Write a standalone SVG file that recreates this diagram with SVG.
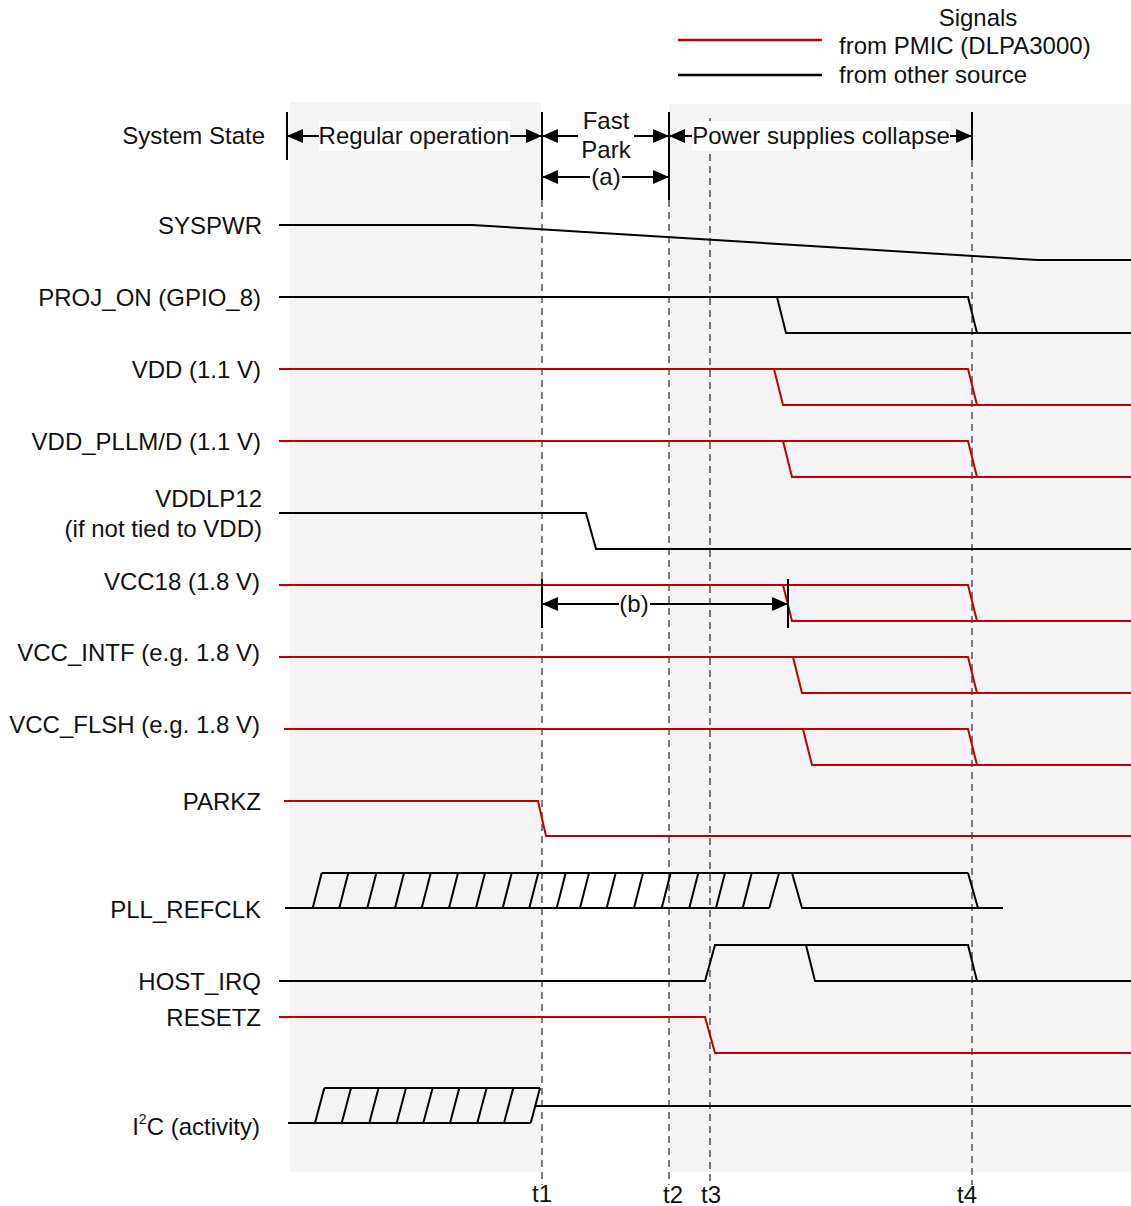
<svg xmlns="http://www.w3.org/2000/svg" width="1131" height="1206" viewBox="0 0 1131 1206">
<defs>
<style>
text{font-family:"Liberation Sans",Arial,Helvetica,sans-serif;font-size:24px;fill:#111}
.lbl{text-anchor:end}
.mid{text-anchor:middle}
.blk{stroke:#000;stroke-width:2;fill:none;stroke-linejoin:miter}
.red{stroke:#c00000;stroke-width:2;fill:none;stroke-linejoin:miter}
.dash{stroke:#3a3a3a;stroke-width:1.3;stroke-dasharray:7 5;fill:none}
.bar{stroke:#000;stroke-width:2;fill:none}
.arr{stroke:#000;stroke-width:2;fill:none;marker-start:url(#ah);marker-end:url(#ah)}
.wb{fill:#fff}
.bg{fill:#f4f4f4}
</style>
<marker id="ah" viewBox="0 0 16 14" refX="16" refY="7" markerWidth="16" markerHeight="14" markerUnits="userSpaceOnUse" orient="auto-start-reverse">
<path d="M0,0 L16,7 L0,14 Z" fill="#000"/>
</marker>
</defs>
<rect width="1131" height="1206" fill="#fff"/>
<g id="background">
<rect class="bg" x="290" y="102" width="251" height="1070"/>
<rect class="bg" x="669" y="104" width="462" height="1068"/>
</g>
<g id="legend">
<text class="mid" x="978" y="26">Signals</text>
<line x1="678" y1="40" x2="822" y2="40" stroke="#c00000" stroke-width="2.5"/>
<text x="839" y="54">from PMIC (DLPA3000)</text>
<line x1="678" y1="75" x2="822" y2="75" stroke="#000" stroke-width="2.5"/>
<text x="839" y="83">from other source</text>
</g>
<g id="timelines">
<line class="bar" x1="287" y1="112" x2="287" y2="160"/>
<line class="bar" x1="542" y1="112" x2="542" y2="200"/>
<line class="bar" x1="669" y1="112" x2="669" y2="200"/>
<line class="bar" x1="972" y1="112" x2="972" y2="160"/>
<line class="dash" x1="542" y1="200" x2="542" y2="1185"/>
<line class="dash" x1="669" y1="200" x2="669" y2="1185"/>
<line class="dash" x1="710" y1="118" x2="710" y2="1185"/>
<line class="dash" x1="972" y1="160" x2="972" y2="1185"/>
<text class="mid" x="542" y="1202">t1</text>
<text class="mid" x="673" y="1203">t2</text>
<text class="mid" x="711" y="1203">t3</text>
<text class="mid" x="967" y="1203">t4</text>
</g>
<g id="system-state">
<text class="lbl" x="265" y="144">System State</text>
<line class="arr" x1="287" y1="136" x2="542" y2="136"/>
<rect class="wb" x="319" y="121" width="191" height="30"/>
<text class="mid" x="414" y="144">Regular operation</text>
<line class="arr" x1="542" y1="136" x2="669" y2="136"/>
<rect class="wb" x="578" y="108" width="56" height="52"/>
<text class="mid" x="606" y="129">Fast</text>
<text class="mid" x="606" y="158">Park</text>
<line class="arr" x1="542" y1="177" x2="669" y2="177"/>
<rect class="wb" x="590" y="163" width="32" height="28"/>
<text class="mid" x="606" y="185">(a)</text>
<line class="arr" x1="669" y1="136" x2="972" y2="136"/>
<rect class="wb" x="692" y="121" width="258" height="30"/>
<text class="mid" x="821" y="144">Power supplies collapse</text>
</g>
<g id="SYSPWR">
<text class="lbl" x="262" y="234">SYSPWR</text>
</g>
<g id="PROJ_ON">
<text class="lbl" x="261" y="306">PROJ_ON (GPIO_8)</text>
</g>
<g id="VDD">
<text class="lbl" x="261" y="378">VDD (1.1 V)</text>
</g>
<g id="VDD_PLLM">
<text class="lbl" x="261" y="450">VDD_PLLM/D (1.1 V)</text>
</g>
<g id="VDDLP12">
<text class="lbl" x="262" y="507">VDDLP12</text>
<text class="lbl" x="262" y="537">(if not tied to VDD)</text>
</g>
<g id="VCC18">
<text class="lbl" x="260" y="590">VCC18 (1.8 V)</text>
</g>
<g id="VCC_INTF">
<text class="lbl" x="260" y="661">VCC_INTF (e.g. 1.8 V)</text>
</g>
<g id="VCC_FLSH">
<text class="lbl" x="260" y="733">VCC_FLSH (e.g. 1.8 V)</text>
</g>
<g id="PARKZ">
<text class="lbl" x="261" y="810">PARKZ</text>
</g>
<g id="PLL_REFCLK">
<text class="lbl" x="261" y="918">PLL_REFCLK</text>
</g>
<g id="HOST_IRQ">
<text class="lbl" x="261" y="990">HOST_IRQ</text>
</g>
<g id="RESETZ">
<text class="lbl" x="261" y="1026">RESETZ</text>
</g>
<g id="I2C">
<text class="lbl" x="260" y="1135">I<tspan font-size="14" dy="-11">2</tspan><tspan dy="11">C (activity)</tspan></text>
</g>
<g id="connectors">
<polyline class="blk" points="279,225 472,225 1038,260 1131,260"/>
<polyline class="blk" points="279,297 968,297 977,333 1131,333"/>
<polyline class="blk" points="777,297 786,333 977,333"/>
<polyline class="red" points="279,369 968,369 977,405 1131,405"/>
<polyline class="red" points="774,369 783,405 977,405"/>
<polyline class="red" points="279,441 968,441 977,477 1131,477"/>
<polyline class="red" points="783,441 792,477 977,477"/>
<polyline class="blk" points="279,513 586,513 596,549 1131,549"/>
<polyline class="red" points="279,585 968,585 977,621 1131,621"/>
<polyline class="red" points="783,585 792,621 977,621"/>
<line class="bar" x1="542" y1="579" x2="542" y2="628"/>
<line class="bar" x1="788" y1="579" x2="788" y2="628"/>
<line class="arr" x1="542" y1="604" x2="788" y2="604"/>
<rect class="wb" x="619" y="591" width="31" height="27"/>
<text class="mid" x="634" y="612">(b)</text>
<polyline class="red" points="279,657 968,657 977,693 1131,693"/>
<polyline class="red" points="793,657 802,693 977,693"/>
<polyline class="red" points="284,729 968,729 977,765 1131,765"/>
<polyline class="red" points="803,729 812,765 977,765"/>
<polyline class="red" points="284,801 538,801 546,836 1131,836"/>
<line class="blk" x1="285" y1="908" x2="769.3" y2="908"/>
<line class="blk" x1="321.7" y1="873" x2="968" y2="873"/>
<polyline class="blk" points="792,873 802,908 1003,908"/>
<polyline class="blk" points="968,873 978,908 1003,908"/>
<path class="blk" d="M312.7,908 l9,-35 M339.3,908 l9,-35 M367.3,908 l9,-35 M395,908 l9,-35 M421.7,908 l9,-35 M449,908 l9,-35 M476,908 l9,-35 M502.7,908 l9,-35 M529.3,908 l9,-35 M556.7,908 l9,-35 M580,908 l9,-35 M606.7,908 l9,-35 M634,908 l9,-35 M661.7,908 l9,-35 M689.3,908 l9,-35 M716,908 l9,-35 M742.7,908 l9,-35 M769.3,908 l9.7,-35"/>
<polyline class="blk" points="279,981 705,981 715,945 968,945 977,981 1131,981"/>
<polyline class="blk" points="806,945 815,981 977,981"/>
<polyline class="red" points="279,1017 705,1017 715,1053 1131,1053"/>
<line class="blk" x1="288" y1="1123" x2="530.7" y2="1123"/>
<line class="blk" x1="324.3" y1="1088" x2="540" y2="1088"/>
<path class="blk" d="M315,1123 l9.3,-35 M341.7,1123 l9.3,-35 M369.3,1123 l9.3,-35 M396.7,1123 l9.3,-35 M423.3,1123 l9.3,-35 M450,1123 l9.3,-35 M477.3,1123 l9.3,-35 M504,1123 l9.3,-35 M530.7,1123 l9.3,-35"/>
<line class="blk" x1="535" y1="1106" x2="1131" y2="1106"/>
</g>
</svg>
